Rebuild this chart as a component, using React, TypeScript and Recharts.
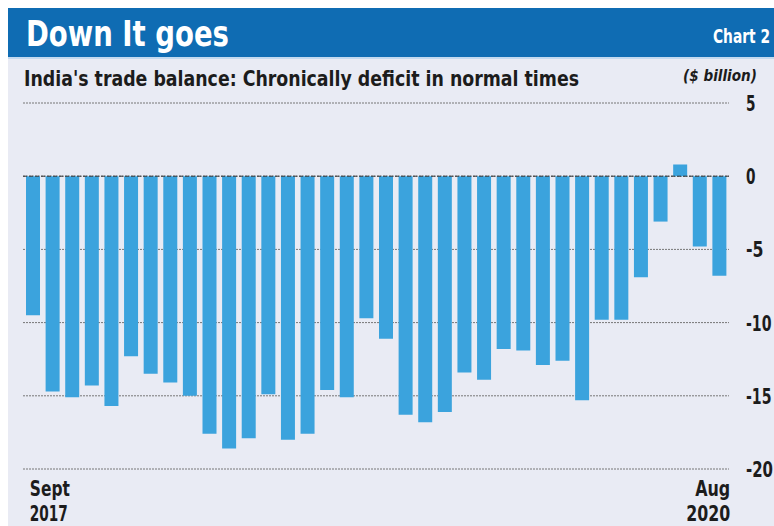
import React from 'react';
import { BarChart, Bar, XAxis, YAxis, CartesianGrid, ReferenceLine } from 'recharts';

// Monthly trade balance, Sept 2017 - Aug 2020 ($ billion)
const months = [
  'Sep 2017', 'Oct 2017', 'Nov 2017', 'Dec 2017',
  'Jan 2018', 'Feb 2018', 'Mar 2018', 'Apr 2018', 'May 2018', 'Jun 2018',
  'Jul 2018', 'Aug 2018', 'Sep 2018', 'Oct 2018', 'Nov 2018', 'Dec 2018',
  'Jan 2019', 'Feb 2019', 'Mar 2019', 'Apr 2019', 'May 2019', 'Jun 2019',
  'Jul 2019', 'Aug 2019', 'Sep 2019', 'Oct 2019', 'Nov 2019', 'Dec 2019',
  'Jan 2020', 'Feb 2020', 'Mar 2020', 'Apr 2020', 'May 2020', 'Jun 2020',
  'Jul 2020', 'Aug 2020',
];

const balance = [
  -9.5, -14.7, -15.1, -14.3, -15.7, -12.3, -13.5, -14.1, -15.0, -17.6,
  -18.6, -17.9, -14.9, -18.0, -17.6, -14.6, -15.1, -9.7, -11.1, -16.3,
  -16.8, -16.1, -13.4, -13.9, -11.8, -11.9, -12.9, -12.6, -15.3, -9.8,
  -9.8, -6.9, -3.1, 0.8, -4.8, -6.8,
];

const yTicks = [5, 0, -5, -10, -15, -20];
const xLabels: Record<string, [string, string]> = {
  'Sep 2017': ['Sept', '2017'],
  'Aug 2020': ['Aug', '2020'],
};

const data = months.map((m, i) => ({ month: m, value: balance[i] }));

const FONT = "'DejaVu Sans', 'Roboto', sans-serif";
const INK = '#1c1c1c';
const W = 766;
const H = 518;

// The original uses a condensed face: draw with a horizontal squeeze and pin the width.
const Narrow = ({ x, y, w, k = 0.68, size, children, ...rest }: any) => (
  <text transform={`translate(${x},${y}) scale(${k},1)`} x={0} y={0}
    fontFamily={FONT} fontWeight={700} fontSize={size}
    textLength={w / k} lengthAdjust="spacingAndGlyphs" {...rest}>
    {children}
  </text>
);

const tickWidth = (s: string) =>
  s.split('').reduce((w, c) => w + (c === '-' ? 8 : c === '1' ? 8 : 9.5), 0);

const YTick = ({ x, y, payload }: any) => {
  const s = String(payload.value);
  return <Narrow x={x} y={y + 8} w={tickWidth(s)} size={22} fill={INK}>{s}</Narrow>;
};

const labelWidths: Record<string, number> = { Sept: 40, '2017': 38, Aug: 35, '2020': 44 };

const XTick = ({ x, y, payload }: any) => {
  const lines = xLabels[payload.value];
  if (!lines) return null;
  const first = payload.value === months[0];
  return (
    <g>
      {lines.map((t, i) => {
        const w = labelWidths[t];
        const tx = first ? x - 3 : x + 11 - w;
        return <Narrow key={t} x={tx} y={y + 21 + i * 25} w={w} size={22} fill={INK}>{t}</Narrow>;
      })}
    </g>
  );
};

export default function App() {
  // fixed so the page never grows a scrollbar (body margin + chart would exceed 526px)
  return (
    <div style={{ position: 'fixed', left: 8, top: 8, width: W, height: H, background: '#e9ebf4' }}>
      <BarChart width={W} height={H} data={data}
        margin={{ top: 95, right: 0, bottom: 0, left: 15 }}>
        <CartesianGrid vertical={false} stroke="#777" strokeDasharray="2 1" />
        <XAxis dataKey="month" ticks={[months[0], months[35]]} interval={0}
          axisLine={false} tickLine={false} tickMargin={0} height={57} tick={<XTick />} />
        <YAxis orientation="right" domain={[-20, 5]} ticks={yTicks} width={45}
          axisLine={false} tickLine={false} tickMargin={11} tick={<YTick />} />
        <ReferenceLine y={0} stroke="#333" strokeDasharray="4 2" />
        <Bar dataKey="value" fill="#3ba3dd" barSize={14} isAnimationActive={false} />
      </BarChart>
      <svg width={W} height={90} style={{ position: 'absolute', left: 0, top: 0, pointerEvents: 'none' }}>
        <rect x={0} y={0} width={W} height={49} fill="#0f6cb3" />
        <rect x={0} y={49} width={W} height={2} fill="#c3daf0" />
        <Narrow x={18} y={38} w={203} k={0.85} size={36} fill="#fff">Down It goes</Narrow>
        <Narrow x={705} y={35} w={57} k={0.75} size={20} fill="#fff">Chart 2</Narrow>
        <Narrow x={16} y={78} w={555} k={0.75} size={21} fill={INK}>
          India's trade balance: Chronically deficit in normal times
        </Narrow>
        <Narrow x={675} y={73} w={74} k={0.7} size={16} fill={INK} fontStyle="italic">($ billion)</Narrow>
      </svg>
    </div>
  );
}
